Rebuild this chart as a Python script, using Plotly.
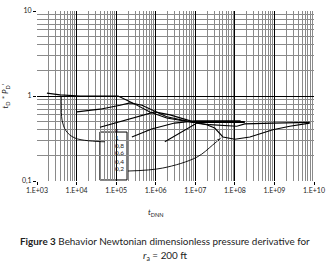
import plotly.graph_objects as go

# ---- data ----
n_labels = ["1", "0,8", "0,6", "0,4", "0,2"]

t_n10 = [1.78e3, 3.8e3, 1.23e4, 3.9e4, 1.12e5, 2.6e5, 7.1e5, 1.9e6, 8.7e6, 1.78e8]
d_n10 = [1.08, 1.03, 1.0, 1.0, 1.0, 0.83, 0.65, 0.55, 0.49, 0.49]

t_n08 = [1.02e4, 3.9e4, 1.26e5, 2.24e5, 4.5e5, 8.5e5, 1.9e6, 8.7e6, 2.3e7, 1.12e8, 1.78e8, 9.1e8, 7.8e9]
d_n08 = [0.65, 0.70, 0.78, 0.83, 0.78, 0.68, 0.57, 0.49, 0.46, 0.44, 0.47, 0.48, 0.49]

t_n06 = [3.9e4, 2.24e5, 9.5e5, 2.3e6, 8.7e6, 1.78e8]
d_n06 = [0.43, 0.54, 0.65, 0.60, 0.50, 0.50]

t_n04 = [2.5e5, 7.9e5, 3.0e6, 9.8e6, 1.4e8]
d_n04 = [0.33, 0.41, 0.48, 0.51, 0.51]

t_n02 = [1.7e6, 4.1e6, 1.1e7, 1.95e7, 3.1e7, 5.0e7, 1.0e8, 2.4e8, 9.1e8, 2.45e9, 7.8e9]
d_n02 = [0.29, 0.37, 0.48, 0.46, 0.42, 0.33, 0.31, 0.33, 0.40, 0.44, 0.48]

# curved label leaders
lead1_t = [5.2e4, 4.2e4, 9.1e3, 5.4e3, 4.3e3, 4.1e3, 4.1e3]
lead1_d = [0.29, 0.29, 0.32, 0.39, 0.52, 0.78, 1.0]
lead02_t = [2.0e5, 1.5e6, 1.1e7, 2.75e7, 4.7e7]
lead02_d = [0.131, 0.142, 0.191, 0.265, 0.33]

x_tickvals = [1e3, 1e4, 1e5, 1e6, 1e7, 1e8, 1e9, 1e10]
x_ticktext = ["1.E+03", "1.E+04", "1.E+05", "1.E+06", "1.E+07", "1.E+08", "1.E+09", "1.E+10"]
y_tickvals = [0.1, 1, 10]
y_ticktext = ["0,1", "1", "10"]

FONT = "Lato, 'Noto Sans', sans-serif"

fig = go.Figure()
series = [(t_n10, d_n10), (t_n08, d_n08), (t_n06, d_n06), (t_n04, d_n04), (t_n02, d_n02)]
for (t, d), lab in zip(series, n_labels):
    fig.add_trace(go.Scatter(x=t, y=d, mode="lines", name="n=" + lab,
                             line=dict(color="black", width=1.1), showlegend=False))

fig.add_trace(go.Scatter(x=lead1_t, y=lead1_d, mode="lines", showlegend=False,
                         line=dict(color="black", width=0.9, shape="spline")))
fig.add_trace(go.Scatter(x=lead02_t, y=lead02_d, mode="lines+markers", showlegend=False,
                         line=dict(color="black", width=0.9, shape="spline"),
                         marker=dict(symbol="arrow", size=[0, 0, 0, 0, 6], angleref="previous",
                                     color="black")))

axis_common = dict(
    type="log", showline=False, zeroline=False, automargin=False,
    gridcolor="black", gridwidth=1.3,
    ticks="outside", ticklen=3, tickcolor="black",
    tickfont=dict(family=FONT, size=7, color="#222"),
    minor=dict(showgrid=True, gridcolor="#8a8a8a", gridwidth=1, dtick="D1"),
)

fig.update_xaxes(**axis_common, range=[3, 10], tickvals=x_tickvals, ticktext=x_ticktext)
fig.update_yaxes(**axis_common, range=[-1, 1], tickvals=y_tickvals, ticktext=y_ticktext,
                 title=dict(text="<i>t</i><sub>D</sub> * <i>P</i><sub>D</sub>'",
                            font=dict(family=FONT, size=8, color="#222"), standoff=12))

# x-axis title (placed as in the reference, left of centre)
fig.add_annotation(xref="paper", yref="paper", x=0.43, y=-0.188, yanchor="middle",
                   text="<i>t</i><sub>DNN</sub>", showarrow=False,
                   font=dict(family=FONT, size=8, color="#222"))

# legend box with n labels
fig.add_shape(type="rect", xref="paper", yref="paper", x0=0.227, x1=0.325, y0=0.006, y1=0.288,
              line=dict(color="black", width=1), fillcolor="white", layer="between")
fig.add_annotation(xref="paper", yref="paper", x=0.274, y=0.271, text="<i>n</i>", showarrow=False,
                   font=dict(family=FONT, size=6, color="#222"))
label_y = [0.224, 0.176, 0.135, 0.082, 0.041]
for lab, yy in zip(n_labels, label_y):
    fig.add_annotation(xref="paper", yref="paper", x=0.274, y=yy, text=lab, showarrow=False,
                       font=dict(family=FONT, size=6.5, color="#222"))

# caption
fig.add_annotation(xref="paper", yref="paper", x=0.462, y=-0.353, yanchor="middle",
                   text="<b>Figure 3</b> Behavior Newtonian dimensionless pressure derivative for",
                   showarrow=False, font=dict(family=FONT, size=9.9, color="#222"))
fig.add_annotation(xref="paper", yref="paper", x=0.462, y=-0.44, yanchor="middle",
                   text="<i>r</i><sub>a</sub> = 200 ft",
                   showarrow=False, font=dict(family=FONT, size=9.9, color="#222"))

fig.update_layout(
    width=329, height=266,
    margin=dict(l=37, r=15, t=11, b=85),
    paper_bgcolor="white", plot_bgcolor="white",
    showlegend=False,
)

fig.write_html("out.html", config={"displayModeBar": False},
               post_script="document.body.style.margin='0';")
